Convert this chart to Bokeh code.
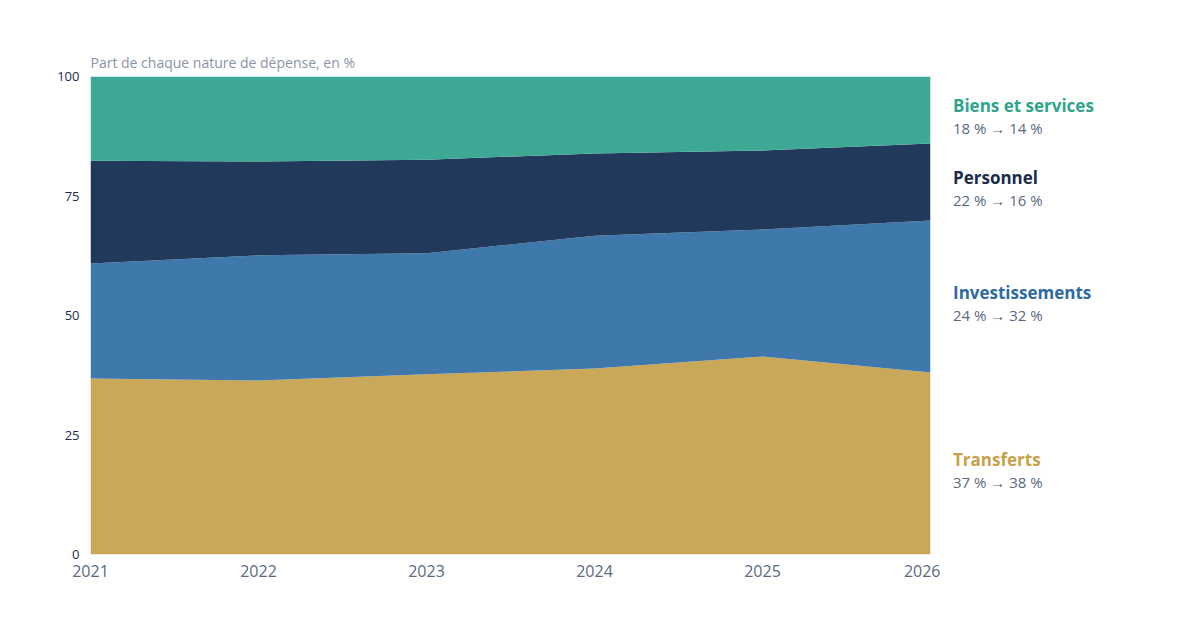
from bokeh.plotting import figure
from bokeh.models import Div
from bokeh.layouts import column, row
from bokeh.embed import file_html
from bokeh.resources import INLINE

years = [2021, 2022, 2023, 2024, 2025, 2026]
transferts = [36.8, 36.4, 37.7, 38.9, 41.4, 38.1]
investissements = [24.1, 26.2, 25.3, 27.8, 26.6, 31.8]
personnel = [21.5, 19.6, 19.6, 17.2, 16.5, 16.1]
biens = [17.6, 17.8, 17.4, 16.1, 15.5, 14.0]
names = ["Transferts", "Investissements", "Personnel", "Biens et services"]
subs = ["37 % → 38 %", "24 % → 32 %", "22 % → 16 %", "18 % → 14 %"]
colors = ["#c9a85a", "#3f78ab", "#213a5c", "#3da893"]
label_colors = ["#c9a04a", "#2e6aa0", "#1a2b4c", "#2ea58a"]
label_top_px = [455, 288, 173, 101]

p = figure(width=940, height=622, output_backend="svg", toolbar_location=None,
           x_range=(2021, 2026), y_range=(0, 100),
           min_border_left=90, min_border_right=10, min_border_top=76, min_border_bottom=68,
           title="Part de chaque nature de dépense, en %")
p.title.text_font = "Open Sans"
p.title.text_font_size = "14px"
p.title.text_font_style = "normal"
p.title.text_color = "#8a94a6"
p.title.align = "left"
data = dict(x=years, t=transferts, i=investissements, p=personnel, b=biens)
p.varea_stack(["t", "i", "p", "b"], x="x", source=data, color=colors)

p.grid.visible = False
p.outline_line_color = None
for ax in (p.xaxis, p.yaxis):
    ax.axis_line_color = None
    ax.major_tick_line_color = None
    ax.minor_tick_line_color = None
p.xaxis.ticker = years
p.yaxis.ticker = [0, 25, 50, 75, 100]
p.xaxis.major_label_text_font_size = "16px"
p.xaxis.major_label_text_color = "#5a6a80"
p.xaxis.major_label_text_font = "Open Sans"
p.yaxis.major_label_text_font_size = "13px"
p.yaxis.major_label_text_color = "#1a2b4c"
p.yaxis.major_label_text_font = "Open Sans"
p.xaxis.major_label_standoff = 4

html = ""
for n, s, c, y in zip(names, subs, label_colors, label_top_px):
    html += (f'<div style="position:absolute;left:8px;top:{y-11}px;line-height:22px;'
             f'font-family:Open Sans;font-size:17px;font-weight:bold;color:{c};white-space:nowrap">{n}</div>')
    html += (f'<div style="position:absolute;left:8px;top:{y+11}px;line-height:22px;'
             f'font-family:Open Sans;font-size:15px;color:#5a6a80;white-space:nowrap">{s}</div>')
labels = Div(text=html, width=250, height=622, styles={"position": "relative"})

line = Div(width=1200, height=3, styles={"background-color": "#c9a05a"})
layout = column(row(p, labels, spacing=0), line, spacing=0)
open("out.html", "w").write(file_html(layout, INLINE))
